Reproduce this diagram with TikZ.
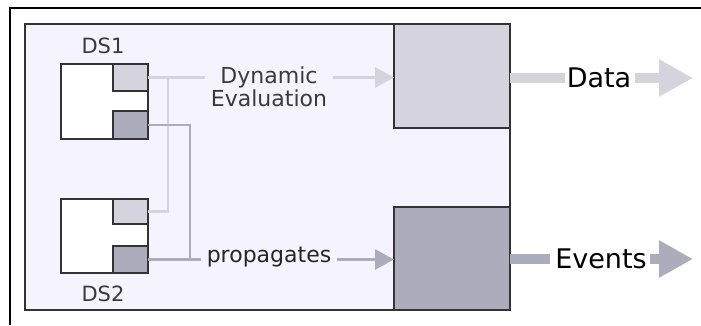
\documentclass[tikz,border=0pt]{standalone}
\usepackage{fontspec}
\setmainfont{DejaVu Sans}
\usetikzlibrary{arrows.meta}
\definecolor{panelfill}{HTML}{F5F3FD}
\definecolor{lightc}{HTML}{D5D3DE}
\definecolor{darkc}{HTML}{ABADBC}
\definecolor{edgec}{HTML}{333333}
\definecolor{textc}{HTML}{3A3A3A}
\begin{document}
\begin{tikzpicture}[x=1pt,y=-1pt,
  box/.style={draw=edgec,line width=1.4pt,inner sep=0pt,outer sep=0pt,minimum width=#1},
  subbox/.style={draw=edgec,line width=1.4pt,inner sep=0pt,outer sep=0pt,minimum width=35pt},
  lightline/.style={draw=lightc,line width=2.8pt},
  darkline/.style={draw=darkc,line width=2.8pt},
  tip/.style={-{Triangle[length=19pt,width=20pt]}},
  bigflow/.style={line width=10pt},
  bigtip/.style={-{Triangle[length=34pt,width=35pt]}},
  lbl/.style={text=textc,font=\fontsize{21}{23}\selectfont,inner sep=0pt},
  mid/.style={text=textc,font=\fontsize{22}{25}\selectfont,inner sep=0pt,align=center},
  outlbl/.style={text=black,font=\fontsize{27}{30}\selectfont,inner sep=0pt}]
\useasboundingbox[fill=white] (0,0) rectangle (701,325);

% outer frame (top and left edges)
\draw[black,line width=1.5pt] (10,325) -- (10,8) -- (701,8);

% inner panel
\draw[draw=edgec,fill=panelfill,line width=1.2pt] (25,24) rectangle (510,310);

% data sources
\node[box=87pt,minimum height=75pt,fill=white] (DS1) at (104.5,101.5) {};
\node[subbox,minimum height=27pt,fill=lightc] (DS1l) at (130.5,77.5) {};
\node[subbox,minimum height=28pt,fill=darkc] (DS1d) at (130.5,125) {};
\node[lbl] (DS1t) at (103,46) {DS1};

\node[box=87pt,minimum height=74pt,fill=white] (DS2) at (104.5,236) {};
\node[subbox,minimum height=25pt,fill=lightc] (DS2l) at (130.5,211.5) {};
\node[subbox,minimum height=27pt,fill=darkc] (DS2d) at (130.5,259.5) {};
\node[lbl] (DS2t) at (103,294) {DS2};

% output stores
\node[box=116pt,minimum height=104pt,fill=lightc] (R1) at (452,76) {};
\node[box=116pt,minimum height=103pt,fill=darkc] (R2) at (452,258.5) {};

% middle labels
\node[mid,minimum width=128pt] (dyn) at (269,87) {Dynamic\\[-2pt]Evaluation};
\node[mid,text=black!85,minimum width=136pt] (prop) at (269,257) {propagates};

% dynamic evaluation path
\coordinate (j1) at (168,77.5);
\draw[lightline] (DS1l.east) -- (DS1l.east -| dyn.west);
\draw[lightline] (DS2l.east) -| (j1);
\draw[lightline,tip] (dyn.east |- DS1l.east) -- (R1.west |- DS1l.east);

% propagation path
\coordinate (j2) at (190,259.5);
\draw[darkline] (DS1d.east) -| (j2);
\draw[darkline] (DS2d.east) -- (prop.west |- DS2d.east);
\draw[darkline,tip] (prop.east |- DS2d.east) -- (R2.west |- DS2d.east);

% outputs
\node[outlbl] (data) at (599,78) {Data};
\node[outlbl] (events) at (601,259) {Events};
\coordinate (dataend) at (693,78);
\coordinate (eventsend) at (693,259);
\draw[lightc,bigflow] (R1.east |- data.west) -- ([xshift=-2pt]data.west);
\draw[lightc,bigflow,bigtip] ([xshift=4pt]data.east) -- (dataend);
\draw[darkc,bigflow] (R2.east |- events.west) -- ([xshift=-5pt]events.west);
\draw[darkc,bigflow,bigtip] ([xshift=3pt]events.east) -- (eventsend);
\end{tikzpicture}
\end{document}
